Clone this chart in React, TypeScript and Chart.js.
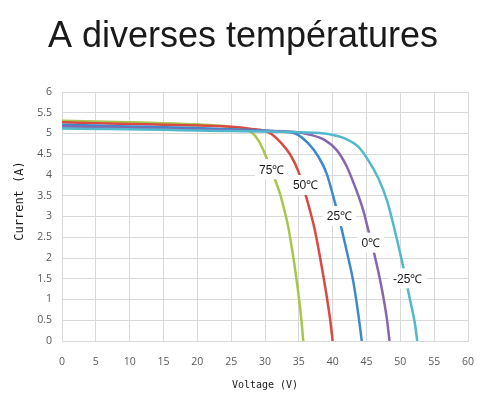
import { useEffect, useRef } from "react";
import { Chart, registerables } from "chart.js";

Chart.register(...registerables);

const titleText = "A diverses températures";
const xTitle = "Voltage (V)";
const yTitle = "Current (A)";

const xTicksMax = 60;
const yTicksMax = 6;

const v75 = [0, 5, 10, 15, 20, 24, 26, 27, 28, 29, 29.75, 30.25, 31.5, 32.2, 32.85, 33.4, 34.2, 34.9, 35.4, 35.65];
const i75 = [5.31, 5.29, 5.27, 5.25, 5.22, 5.18, 5.13, 5.09, 5.03, 4.84, 4.6, 4.4, 3.88, 3.56, 3.16, 2.78, 2.0, 1.19, 0.47, 0];

const v50 = [0, 5, 10, 15, 20, 25, 28, 30, 31, 32.45, 33.7, 34.9, 35.9, 36.65, 37.3, 38.1, 39.0, 39.6, 40.0];
const i50 = [5.27, 5.25, 5.23, 5.21, 5.19, 5.16, 5.11, 5.06, 4.98, 4.76, 4.5, 4.1, 3.58, 3.14, 2.72, 2.05, 1.2, 0.55, 0];

const v25 = [0, 5, 10, 15, 20, 25, 30, 32, 34.45, 36.4, 37.9, 39.1, 40.1, 41.1, 42.1, 43.05, 43.8, 44.3];
const i25 = [5.21, 5.19, 5.17, 5.15, 5.13, 5.1, 5.07, 5.05, 5.0, 4.76, 4.44, 4.04, 3.48, 2.85, 2.15, 1.43, 0.63, 0];

const v0 = [0, 5, 10, 15, 20, 25, 30, 34, 36.9, 38.85, 40.6, 42.1, 43.3, 44.5, 45.1, 46.25, 47.25, 48.0, 48.4];
const i0 = [5.17, 5.15, 5.13, 5.11, 5.09, 5.07, 5.06, 5.04, 4.96, 4.84, 4.6, 4.2, 3.72, 3.16, 2.78, 2.03, 1.27, 0.55, 0];

const vM25 = [0, 5, 10, 15, 20, 25, 30, 35, 39.35, 41.8, 43.8, 45.25, 46.75, 48.0, 48.95, 50.2, 51.4, 52.15, 52.5];
const iM25 = [5.12, 5.11, 5.1, 5.09, 5.07, 5.06, 5.05, 5.03, 4.99, 4.88, 4.68, 4.36, 3.92, 3.4, 2.82, 1.95, 1.02, 0.42, 0];

const labelTexts = ["75℃", "50℃", "25℃", "0℃", "-25℃"];
const labelV = [31.0, 36.0, 41.0, 45.65, 51.1];
const labelI = [4.14, 3.76, 3.01, 2.37, 1.51];

const toPoints = (v: number[], i: number[]) => v.map((x, k) => ({ x, y: i[k] }));

export default function App() {
  const ref = useRef<HTMLCanvasElement | null>(null);

  useEffect(() => {
    if (!ref.current) return;

    const overlay = {
      id: "overlay",
      afterDatasetsDraw(chart: any) {
        const ctx = chart.ctx;
        const xs = chart.scales.x;
        const ys = chart.scales.y;
        ctx.save();
        ctx.font = '12px "Liberation Sans", Arial, sans-serif';
        ctx.textAlign = "center";
        ctx.textBaseline = "middle";
        labelTexts.forEach((t, k) => {
          const px = xs.getPixelForValue(labelV[k]);
          const py = ys.getPixelForValue(labelI[k]);
          const w = ctx.measureText(t).width + 8;
          const h = 20;
          ctx.fillStyle = "#ffffff";
          ctx.fillRect(px - w / 2, py - h / 2, w, h);
          ctx.fillStyle = "#1a1a1a";
          ctx.fillText(t, px, py + 1);
        });
        ctx.restore();
      },
      afterDraw(chart: any) {
        const ctx = chart.ctx;
        const area = chart.chartArea;
        ctx.save();
        ctx.fillStyle = "#1a1a1a";
        ctx.font = '36px "Liberation Sans", Arial, sans-serif';
        ctx.textAlign = "center";
        ctx.textBaseline = "alphabetic";
        ctx.fillText(titleText, 243, 47);

        ctx.font = '10px "DejaVu Sans Mono", monospace';
        ctx.textBaseline = "middle";
        ctx.fillText(xTitle, (area.left + area.right) / 2, 385);

        ctx.translate(20, 201);
        ctx.rotate(-Math.PI / 2);
        ctx.font = '12px "DejaVu Sans Mono", monospace';
        ctx.fillText(yTitle, 0, 0);
        ctx.restore();
      },
    };

    const mk = (label: string, v: number[], i: number[], color: string) => ({
      label,
      data: toPoints(v, i),
      borderColor: color,
      backgroundColor: color,
      borderWidth: 2.5,
      pointRadius: 0,
      fill: false,
      cubicInterpolationMode: "monotone" as const,
    });

    const chart = new Chart(ref.current, {
      type: "line",
      data: {
        datasets: [
          mk("-25℃", vM25, iM25, "#52B8CC"),
          mk("0℃", v0, i0, "#8567B0"),
          mk("25℃", v25, i25, "#3F88CC"),
          mk("50℃", v50, i50, "#DA4A42"),
          mk("75℃", v75, i75, "#A8C64B"),
        ],
      },
      options: {
        animation: false,
        responsive: true,
        maintainAspectRatio: false,
        layout: { padding: { top: 92, right: 14, left: 0, bottom: 0 } },
        plugins: {
          legend: { display: false },
          tooltip: { enabled: false },
          title: { display: false },
        },
        scales: {
          x: {
            type: "linear",
            min: 0,
            max: xTicksMax,
            ticks: {
              stepSize: 5,
              padding: 15,
              color: "#595959",
              font: { family: '"Open Sans", sans-serif', size: 10.5 },
              callback: (v: any) => String(Number(v)),
            },
            grid: { color: "#d9d9d9", drawTicks: false },
            border: { color: "#d9d9d9" },
            afterFit: (s: any) => {
              s.height = 52;
              s.paddingLeft = 0;
              s.paddingRight = 0;
            },
          },
          y: {
            type: "linear",
            min: 0,
            max: yTicksMax,
            ticks: {
              stepSize: 0.5,
              padding: 10,
              color: "#595959",
              font: { family: '"Open Sans", sans-serif', size: 10.5 },
              callback: (v: any) => String(Number(v)),
            },
            grid: { color: "#d9d9d9", drawTicks: false },
            border: { color: "#d9d9d9" },
            afterFit: (s: any) => {
              s.width = 62;
            },
          },
        },
      },
      plugins: [overlay],
    });

    return () => chart.destroy();
  }, []);

  return (
    <div style={{ position: "fixed", left: 0, top: 0, width: 482, height: 393, background: "#fff" }}>
      <canvas ref={ref} />
    </div>
  );
}
